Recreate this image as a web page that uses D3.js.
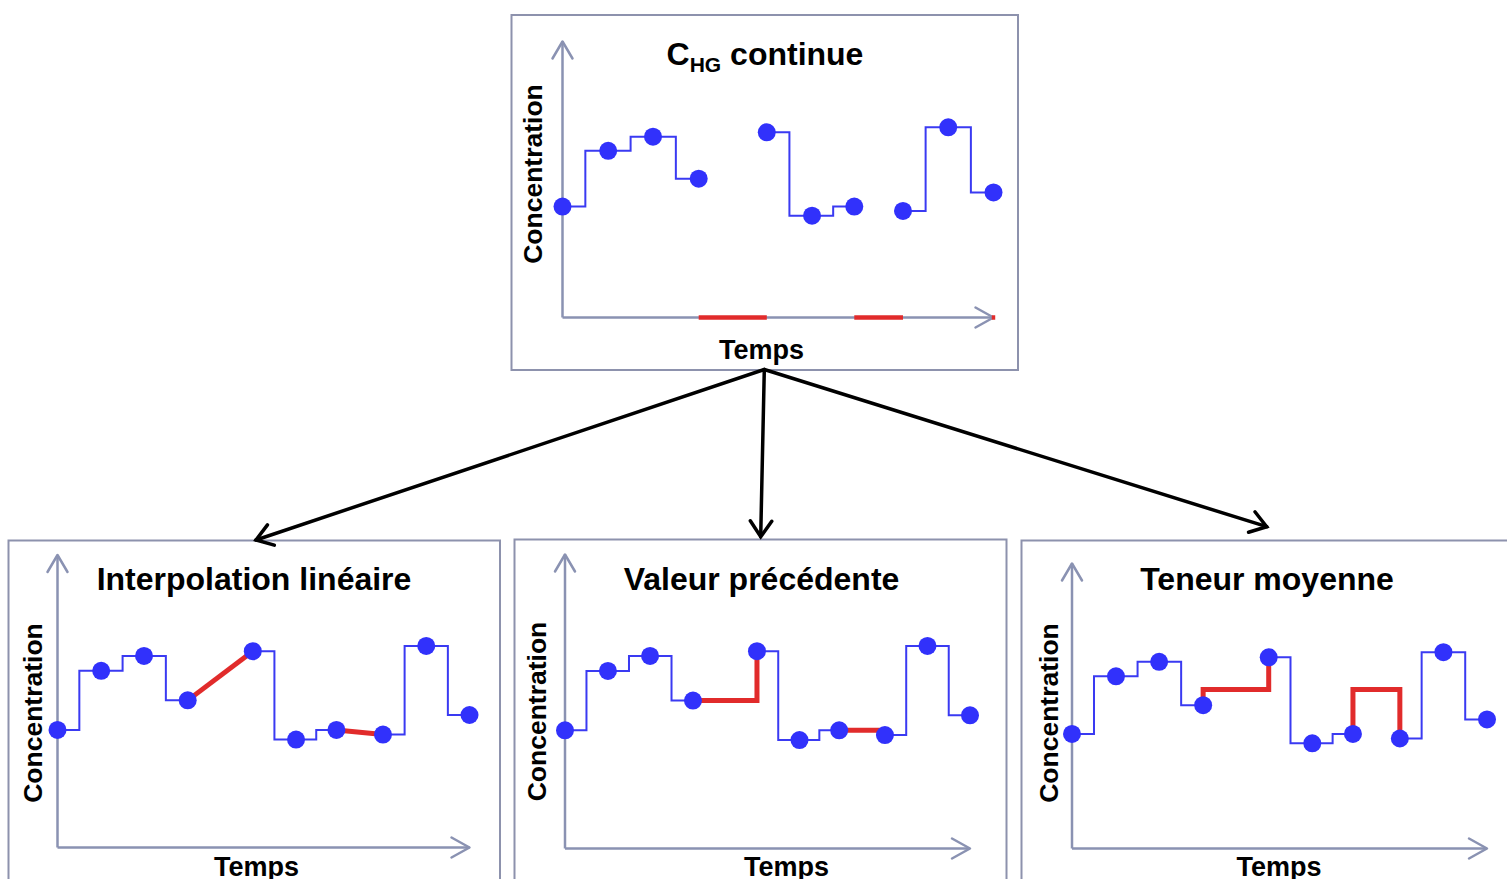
<!DOCTYPE html>
<html><head><meta charset="utf-8">
<script src="https://cdn.jsdelivr.net/npm/d3@7"></script>
<style>
html,body{margin:0;padding:0;background:#fff;overflow:hidden}
svg{display:block}
text{font-family:"Liberation Sans",Arial,Helvetica,sans-serif;font-weight:bold;fill:#000}
</style></head><body>
<svg id="chart" width="1507" height="879"></svg>
<script>
// ---------------- data ----------------
const times = [0, 10.6, 21.0, 31.6, 47.4, 57.9, 67.7, 79.0, 89.5, 100];
const concentrations = [40.2, 60.4, 65.5, 50.3, 67.1, 36.9, 40.2, 38.6, 68.9, 45.3];
const measuredRuns = [[0, 3], [4, 6], [7, 9]];      // index ranges of continuous measurement
const missingGaps = [[3, 4], [6, 7]];                // gaps between measured points
const axisMissingMarks = [[99.6, 100.4]];            // extra missing mark at the end of the time axis
const meanConcentration = 55.8;
const panelTitles = ["continue", "Interpolation linéaire", "Valeur précédente", "Teneur moyenne"];
const titlePrefix = "C", titleSub = "HG";
const methods = ["none", "linear", "previous", "mean"];
const xLabel = "Temps", yLabel = "Concentration";

// ---------------- layout ----------------
const panels = [
  {box:[511.5,15,506.5,355],  x0:562.5, xTip:993.5, y0:317.5, yTip:41.5, title:[765,65],    xl:[761.5,359], yl:[541.5,174]},
  {box:[8.5,540.5,491.5,400], x0:57.5,  xTip:469.5, y0:847.5, yTip:555,  title:[254,590],   xl:[256.5,876], yl:[41.5,713]},
  {box:[514.5,539.5,492,400], x0:565,   xTip:970,   y0:848.5, yTip:554.5,title:[761.5,590], xl:[786.5,875.5], yl:[545.5,711.5]},
  {box:[1021.5,540.5,500,400],x0:1072,  xTip:1487,  y0:848.5, yTip:563.5,title:[1267,589.5],xl:[1279,876],  yl:[1057.5,713]}
];
const AXIS = "#8a92b2", BOX = "#8d92ad", BLUE_LINE = "#3a3af2", BLUE_DOT = "#3131fb", RED = "#e12b2b";

const svg = d3.select("#chart");
const pts = times.map((t, i) => ({t, c: concentrations[i]}));

panels.forEach((p, pi) => {
  const g = svg.append("g");
  const x = d3.scaleLinear().domain([0, 100]).range([p.x0, p.xTip]);
  const y = d3.scaleLinear().domain([0, 100]).range([p.y0, p.yTip]);

  g.append("rect").attr("x", p.box[0]).attr("y", p.box[1]).attr("width", p.box[2]).attr("height", p.box[3])
    .attr("fill", "none").attr("stroke", BOX).attr("stroke-width", 2);

  // axes through d3 axis generators
  const ax = g.append("g").attr("transform", `translate(0,${p.y0})`)
    .call(d3.axisBottom(x).ticks(0).tickSizeOuter(0).offset(0));
  const ay = g.append("g").attr("transform", `translate(${p.x0},0)`)
    .call(d3.axisLeft(y).ticks(0).tickSizeOuter(0).offset(0));
  [ax, ay].forEach(a => a.select(".domain").attr("stroke", AXIS).attr("stroke-width", 2.5));
  // chevrons
  const ch = g.append("g").attr("fill", "none").attr("stroke", AXIS).attr("stroke-width", 2.5)
    .attr("stroke-linecap", "round").attr("stroke-linejoin", "round");
  ch.append("path").attr("d", `M${p.x0 - 10},${p.yTip + 17}L${p.x0},${p.yTip}L${p.x0 + 10},${p.yTip + 17}`);
  ch.append("path").attr("d", `M${p.xTip - 18},${p.y0 - 10}L${p.xTip},${p.y0}L${p.xTip - 18},${p.y0 + 10}`);

  // red marks on time axis for top panel
  if (methods[pi] === "none") {
    const marks = missingGaps.map(([a, b]) => [times[a], times[b]]).concat(axisMissingMarks);
    g.selectAll(".miss").data(marks).join("line")
      .attr("x1", d => x(d[0])).attr("x2", d => x(d[1]))
      .attr("y1", p.y0).attr("y2", p.y0)
      .attr("stroke", RED).attr("stroke-width", 4.5).attr("stroke-linecap", "butt");
  }

  // blue step lines
  const step = d3.line().x(d => x(d.t)).y(d => y(d.c)).curve(d3.curveStep);
  g.selectAll(".run").data(measuredRuns).join("path")
    .attr("d", ([a, b]) => step(pts.slice(a, b + 1)))
    .attr("fill", "none").attr("stroke", BLUE_LINE).attr("stroke-width", 2);

  // red gap fills
  const m = methods[pi];
  if (m !== "none") {
    const fillGen = m === "previous"
      ? d3.line().x(d => x(d.t)).y(d => y(d.c)).curve(d3.curveStepAfter)
      : d3.line().x(d => x(d.t)).y(d => y(d.c));
    g.selectAll(".fill").data(missingGaps).join("path")
      .attr("d", ([a, b]) => {
        const A = pts[a], B = pts[b];
        if (m === "mean") return fillGen([A, {t: A.t, c: meanConcentration}, {t: B.t, c: meanConcentration}, B]);
        return fillGen([A, B]);
      })
      .attr("fill", "none").attr("stroke", RED).attr("stroke-width", 5).attr("stroke-linejoin", "miter");
  }

  // dots
  g.selectAll(".dot").data(pts).join("circle")
    .attr("cx", d => x(d.t)).attr("cy", d => y(d.c)).attr("r", 9).attr("fill", BLUE_DOT);

  // titles
  const t = g.append("text").attr("x", p.title[0]).attr("y", p.title[1]).attr("text-anchor", "middle")
    .style("font-size", "32px");
  if (pi === 0) {
    t.append("tspan").text(titlePrefix);
    t.append("tspan").text(titleSub).style("font-size", "21px").attr("dy", 7);
    t.append("tspan").text(" " + panelTitles[0]).attr("dy", -7);
  } else {
    t.text(panelTitles[pi]);
  }
  g.append("text").attr("x", p.xl[0]).attr("y", p.xl[1]).attr("text-anchor", "middle")
    .style("font-size", "27px").text(xLabel);
  g.append("text").attr("transform", `translate(${p.yl[0]},${p.yl[1]}) rotate(-90)`).attr("text-anchor", "middle")
    .style("font-size", "26.5px").text(yLabel);
});

// black connector arrows
const origin = [764.3, 369.5];
const targets = [[256, 540], [760.7, 536.7], [1266.7, 526.7]];
const arr = svg.append("g").attr("fill", "none").attr("stroke", "#000").attr("stroke-width", 3.5)
  .attr("stroke-linecap", "round").attr("stroke-linejoin", "miter");
targets.forEach(([tx, ty]) => {
  arr.append("line").attr("x1", origin[0]).attr("y1", origin[1]).attr("x2", tx).attr("y2", ty);
  const ang = Math.atan2(ty - origin[1], tx - origin[0]);
  const L = 19, spread = 0.6;
  const a1 = [tx - L * Math.cos(ang - spread), ty - L * Math.sin(ang - spread)];
  const a2 = [tx - L * Math.cos(ang + spread), ty - L * Math.sin(ang + spread)];
  arr.append("path").attr("d", `M${a1[0]},${a1[1]}L${tx},${ty}L${a2[0]},${a2[1]}`);
});
</script>
</body></html>
